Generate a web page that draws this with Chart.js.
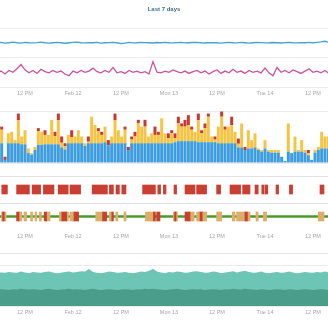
<!DOCTYPE html>
<html lang="en">
<head>
<meta charset="UTF-8">
<title>Last 7 days</title>
<script src="https://cdn.jsdelivr.net/npm/chart.js"></script>
<style>
  body { margin: 0; background: #fff; }
  #wrap { position: relative; width: 328px; height: 328px; overflow: hidden; }
  canvas { position: absolute; left: 0; }
  .sep { position: absolute; left: 0; width: 328px; height: 1px; background: #e4e4e4; }
</style>
</head>
<body>
<div id="wrap">
  <canvas id="lines" width="328" height="100" style="top:0"></canvas>
  <canvas id="bars" width="328" height="76" style="top:100px"></canvas>
  <canvas id="states" width="328" height="78" style="top:172px"></canvas>
  <div class="sep" style="top:253px"></div>
  <canvas id="area" width="328" height="73" style="top:255px"></canvas>
</div>
<script>
// time axis, in hours since Feb 11 00:00
const viewStart = 5.75;
const viewEnd = 87.75;
const tickHours = [12, 24, 36, 48, 60, 72, 84];
const tickLabels = ['12 PM', 'Feb 12', '12 PM', 'Mon 13', '12 PM', 'Tue 14', '12 PM'];

// hourly series, first point at hour 5
const blueLine = [75, 75.5, 74.5, 75, 76, 75, 74.5, 75.5, 75, 74.8,
  75.3, 76, 75, 74.5, 75, 75.5, 75, 74.2, 75, 75.5,
  76, 75, 74.8, 75.2, 75, 75.5, 74.5, 75, 75.3, 75.8,
  75, 73.5, 74.5, 75.5, 74.8, 75, 75.5, 75.2, 75, 74.6,
  75.4, 75, 75.6, 75, 74.8, 75.2, 75.5, 74.7, 75, 75.4,
  75.8, 75, 74.6, 75, 75.3, 75, 74.5, 75.2, 75.7, 75,
  74.8, 75.5, 75, 74.4, 75, 75.6, 75.2, 74.8, 75, 75.4,
  75, 74.6, 75.3, 75.8, 75, 74.7, 75.2, 75, 75.5, 75,
  75.8, 76.5, 77.5, 75.5];
const pinkLine = [24, 27, 22, 28, 25, 31, 38, 29, 24, 28,
  23, 30, 26, 24, 28, 25, 27, 22, 19, 27,
  24, 28, 25, 27, 32, 26, 24, 28, 25, 33,
  24, 26, 23, 28, 25, 27, 24, 26, 22, 43,
  25, 24, 27, 25, 29, 26, 24, 27, 23, 26,
  28, 24, 27, 22, 26, 29, 23, 27, 24, 30,
  25, 27, 23, 28, 25, 27, 24, 32, 24, 19,
  33, 25, 28, 24, 29, 26, 23, 27, 31, 25,
  27, 24, 28, 23];
const areaTotal = [80, 82, 81, 83, 82, 81, 84, 82, 80, 83,
  82, 81, 83, 84, 82, 80, 81, 83, 84, 82,
  83, 85, 84, 90, 83, 81, 80, 82, 84, 83,
  81, 82, 83, 81, 80, 82, 84, 83, 86, 91,
  84, 82, 80, 83, 82, 84, 83, 81, 82, 84,
  85, 83, 81, 82, 84, 83, 80, 82, 83, 85,
  82, 84, 86, 83, 81, 82, 84, 81, 80, 82,
  83, 81, 82, 84, 82, 80, 81, 83, 82, 81,
  83, 82, 84, 82];
const areaBase = [40, 41, 40, 39, 41, 40, 42, 41, 40, 41,
  40, 39, 41, 42, 40, 39, 40, 41, 42, 40,
  41, 40, 39, 41, 42, 40, 39, 40, 41, 40,
  39, 40, 41, 40, 39, 41, 40, 42, 41, 42,
  41, 40, 39, 40, 41, 42, 40, 39, 40, 41,
  40, 41, 39, 40, 41, 40, 39, 41, 40, 42,
  41, 40, 42, 41, 40, 39, 41, 40, 39, 40,
  41, 40, 39, 41, 40, 39, 40, 41, 40, 39,
  40, 41, 40, 39];

// stacked bars, one every 50 minutes from the left edge
const barBlue = [38, 6, 38, 38, 38, 38, 36, 36, 19, 16,
  25, 35, 35, 36, 36, 36, 36, 36, 30, 26,
  38, 38, 38, 38, 38, 33, 38, 38, 38, 38,
  38, 40, 34, 38, 38, 38, 38, 38, 25, 38,
  38, 38, 38, 38, 38, 38, 38, 38, 38, 38,
  38, 38, 40, 42, 42, 42, 42, 42, 42, 40,
  40, 40, 40, 40, 40, 38, 38, 38, 38, 38,
  38, 30, 30, 25, 28, 28, 30, 25, 22, 28,
  22, 20, 20, 20, 12, 4, 22, 19, 22, 22,
  22, 20, 15, 6, 20, 25, 28, 28, 28];
const barYellow = [26, 0, 19, 22, 6, 44, 15, 27, 9, 3,
  6, 26, 25, 18, 18, 47, 16, 46, 9, 6,
  16, 12, 13, 25, 13, 5, 3, 51, 35, 23,
  16, 30, 0, 13, 44, 25, 13, 26, 0, 7,
  13, 39, 32, 32, 13, 19, 16, 16, 48, 19,
  10, 19, 8, 34, 28, 28, 31, 22, 18, 42,
  17, 27, 49, 11, 5, 32, 51, 26, 32, 35,
  22, 7, 46, 0, 35, 16, 27, 3, 3, 16,
  3, 5, 5, 5, 0, 0, 54, 0, 29, 3,
  22, 5, 4, 0, 5, 6, 32, 23, 23];
const barRed = [6, 6, 0, 0, 0, 13, 0, 0, 0, 0,
  0, 6, 0, 9, 0, 0, 8, 13, 12, 6,
  0, 13, 0, 0, 0, 0, 10, 0, 0, 6,
  6, 0, 10, 0, 13, 0, 0, 6, 6, 6,
  9, 6, 0, 13, 0, 0, 16, 6, 0, 0,
  9, 6, 9, 13, 6, 13, 19, 6, 0, 13,
  6, 9, 6, 0, 6, 0, 10, 6, 0, 16,
  0, 10, 0, 6, 0, 0, 0, 0, 0, 0,
  0, 0, 0, 0, 0, 0, 0, 0, 0, 0,
  0, 0, 6, 0, 0, 0, 0, 0, 0];

// state timelines: [start hour, end hour]
const alertBlocks = [[6.2, 7.6], [9.9, 13.1], [13.8, 15.9], [16.6, 19.25], [20.3, 22.8],
  [23.25, 25.9], [28.8, 32.6], [33.1, 34.1], [34.75, 35.6], [36.2, 37.25], [41.4, 44.6],
  [45.2, 45.9], [46.6, 47.25], [49.25, 49.9], [52, 54.5], [54.9, 57.4], [59.9, 60.9],
  [63.25, 65.9], [66.4, 68.25], [69.5, 70.3], [71.2, 71.75], [72, 72.7], [74.75, 75.4],
  [78.1, 78.9], [85.75, 86.75]];
const warnBlocks = [[6.15, 7.25], [10.5, 11.2], [11.75, 12.4], [13.4, 13.9], [14.5, 14.9],
  [15.6, 16.1], [17.4, 18.25], [20.6, 21.2], [22.4, 22.85], [23.25, 24.25], [29.7, 31.4],
  [33.1, 33.7], [34.7, 35.2], [36.75, 37.25], [42.1, 44.1], [49.1, 50.1], [53.25, 54.3],
  [54.9, 55.75], [56.3, 57.4], [59.9, 61.2], [63.8, 64.5], [64.9, 67], [67.6, 68.25],
  [69.75, 70.3], [71.6, 72.4], [85.3, 86.75]];
const critBlocks = [[6.4, 6.8], [9.9, 10.5], [16.8, 17.4], [21.2, 22.4], [24.25, 25.4],
  [31.4, 32.4], [33.7, 34.1], [44.1, 44.6], [44.9, 45.75], [49.4, 49.75], [52, 53.25],
  [55.75, 56.3], [67, 67.6]];

const lineHours = blueLine.map((_, i) => 5 + i);
const barHours = barBlue.map((_, i) => viewStart + (i + 0.5) * 50 / 60);

Chart.defaults.font.family = "'Liberation Sans', Arial, sans-serif";
Chart.defaults.animation = false;
Chart.defaults.responsive = false;
Chart.defaults.devicePixelRatio = 1;
Chart.defaults.plugins.legend.display = false;
Chart.defaults.plugins.tooltip.enabled = false;

function timeAxis(show) {
  return {
    type: 'linear', min: viewStart, max: viewEnd, display: show, offset: false,
    grid: { display: false, drawTicks: false, offset: false }, border: { display: false },
    afterBuildTicks: axis => { axis.ticks = tickHours.map(v => ({ value: v })); },
    ticks: {
      color: '#a6a6a6', font: { size: 5.5 }, padding: 3, maxRotation: 0, autoSkip: false,
      callback: v => tickLabels[tickHours.indexOf(v)]
    }
  };
}
function valueAxis(max, step) {
  return {
    min: 0, max: max, border: { display: false },
    grid: { color: '#ebebeb', drawTicks: false },
    ticks: { display: false, stepSize: step }
  };
}
const xy = (xs, ys) => ys.map((y, i) => ({ x: xs[i], y: y }));

new Chart(document.getElementById('lines'), {
  type: 'line',
  data: {
    datasets: [
      { data: xy(lineHours, blueLine), borderColor: '#45a3cf', borderWidth: 1.3, pointRadius: 0 },
      { data: xy(lineHours, pinkLine), borderColor: '#c9549c', borderWidth: 1.3, pointRadius: 0 }
    ]
  },
  options: {
    layout: { padding: { bottom: 0.4 } },
    plugins: {
      title: {
        display: true, text: 'Last 7 days', color: '#40708a',
        font: { size: 6, weight: 'bold' }, padding: { top: 5.4, bottom: 15.4 }
      }
    },
    scales: { x: timeAxis(true), y: valueAxis(100, 50) }
  }
});

new Chart(document.getElementById('bars'), {
  type: 'bar',
  data: {
    datasets: [
      { data: xy(barHours, barBlue), backgroundColor: '#3d9de0' },
      { data: xy(barHours, barYellow), backgroundColor: '#f6c443' },
      { data: xy(barHours, barRed), backgroundColor: '#c9392f' }
    ]
  },
  options: {
    layout: { padding: { top: 11, bottom: 13 } },
    datasets: { bar: { barPercentage: 1, categoryPercentage: 0.9 } },
    scales: {
      x: Object.assign(timeAxis(false), { stacked: true }),
      y: Object.assign(valueAxis(100, 100), { stacked: true })
    }
  }
});

const spans = (blocks, row) => blocks.map(b => ({ x: b, y: row }));
new Chart(document.getElementById('states'), {
  type: 'bar',
  data: {
    labels: ['alerts', 'status'],
    datasets: [
      { data: spans(critBlocks, 'status'), backgroundColor: '#c9402f', barThickness: 9, grouped: false },
      { data: spans(warnBlocks, 'status'), backgroundColor: '#dcae6b', barThickness: 9, grouped: false },
      { data: [{ x: [viewStart, viewEnd], y: 'status' }], backgroundColor: '#4a9a2c', barThickness: 2, grouped: false },
      { data: spans(alertBlocks, 'alerts'), backgroundColor: '#cb3f33', barThickness: 9, grouped: false }
    ]
  },
  options: {
    indexAxis: 'y',
    layout: { padding: { top: 4, bottom: 7.4 } },
    scales: {
      x: timeAxis(true),
      y: {
        border: { display: false },
        grid: { drawTicks: false, color: c => c.type === 'tick' ? '#e2e2e2' : 'rgba(0,0,0,0)' },
        ticks: { display: false }
      }
    }
  }
});

new Chart(document.getElementById('area'), {
  type: 'line',
  data: {
    datasets: [
      { data: xy(lineHours, areaBase), fill: 'origin', backgroundColor: '#4a9e89', borderWidth: 0, pointRadius: 0 },
      { data: xy(lineHours, areaTotal), fill: 'origin', backgroundColor: '#6cc5b5', borderWidth: 0, pointRadius: 0 }
    ]
  },
  options: {
    layout: { padding: { top: 10, bottom: 9.4 } },
    scales: { x: timeAxis(true), y: valueAxis(100, 100) }
  }
});
</script>
</body>
</html>
